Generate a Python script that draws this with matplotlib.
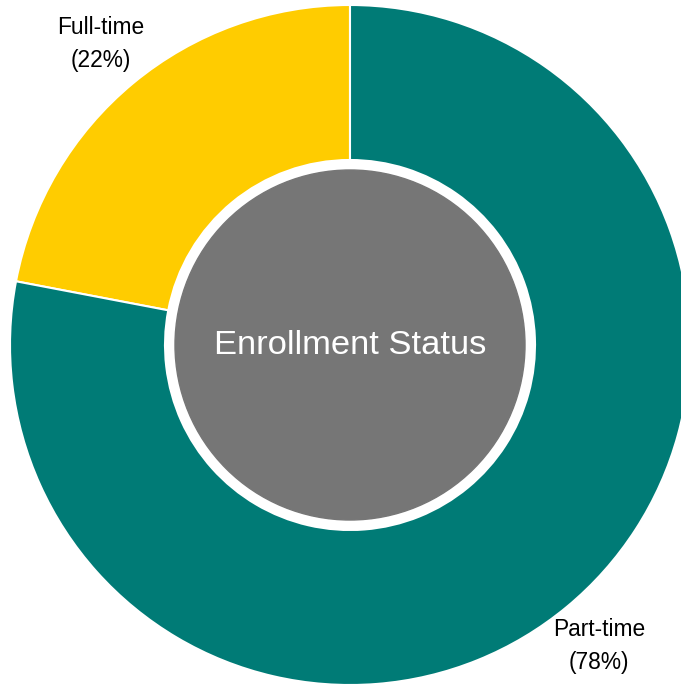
import matplotlib.pyplot as plt

plt.rcParams['font.family'] = ['Liberation Sans', 'DejaVu Sans']

categories = ['Full-time', 'Part-time']
shares = [22, 78]
colors = ['#FFCC00', '#007B76']
center_title = 'Enrollment Status'

fig = plt.figure(figsize=(6.81, 6.85), dpi=100)
ax = fig.add_axes([0, 0, 1, 1])

labels = [f'{c}\n({s}%)' for c, s in zip(categories, shares)]
ax.pie(shares, labels=labels, colors=colors, startangle=90, counterclock=True,
       center=(350, 340), radius=340, labeldistance=1.15,
       wedgeprops=dict(width=155, edgecolor='white', linewidth=1.5),
       textprops=dict(ha='center', va='center', fontsize=16.4, color='black',
                      linespacing=1.55, multialignment='center'))

# grey disc in the hole
ax.add_patch(plt.Circle((350, 340), 175, color='#767676', zorder=3))
ax.text(350, 340, center_title, ha='center', va='center', color='white',
        fontsize=24.8, zorder=4)

ax.set_xlim(0, 681)
ax.set_ylim(0, 685)
ax.set_aspect('auto')
ax.axis('off')

fig.savefig('out.png', dpi=100)
